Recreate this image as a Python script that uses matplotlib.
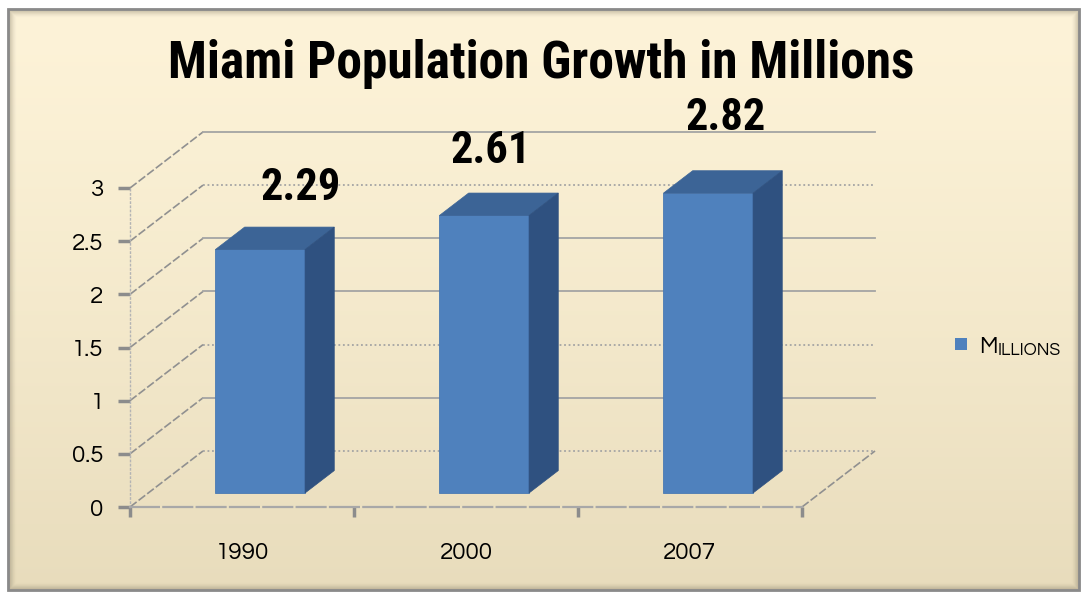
import numpy as np
import matplotlib
matplotlib.use("Agg")
import matplotlib.pyplot as plt
from matplotlib.patches import Rectangle, Polygon

years = ["1990", "2000", "2007"]
millions = [2.29, 2.61, 2.82]
yticks = [0, 0.5, 1, 1.5, 2, 2.5, 3]
ytick_labels = ["0", "0.5", "1", "1.5", "2", "2.5", "3"]
title = "Miami Population Growth in Millions"
series_name = "Millions"

# 3d look (data units of the front plane)
DX, DY = 0.326, 0.527      # depth vector of the floor
F0, F1 = 0.25, 0.65        # bar front / back depth fraction
W = 0.40                   # bar width
label_dx = [0.26, 0.11, 0.16]
label_dy = [0.71, 0.74, 0.84]

cond = ["Roboto Condensed", "Liberation Sans", "DejaVu Sans"]
plain = ["Questrial", "Liberation Sans", "DejaVu Sans"]

fig = plt.figure(figsize=(10.83, 5.93), dpi=100)
fig.patch.set_facecolor("white")

# background panel: gradient + shadowed frame
bg = fig.add_axes([0, 0, 1, 1])
bg.set_xlim(0, 1083)
bg.set_ylim(593, 0)
bg.axis("off")
grad = np.linspace(0, 1, 256).reshape(-1, 1)
top_c = np.array([253, 243, 216]) / 255
bot_c = np.array([232, 220, 188]) / 255
img = top_c + (bot_c - top_c) * grad[..., None] ** 1.3
bg.imshow(img, extent=(8, 1079, 590, 9), aspect="auto", zorder=0)
for k in range(8):
    bg.add_patch(Rectangle((8 + k, 9 + k), 1071 - 2 * k, 581 - 2 * k, fill=False,
                           ec=(0.45, 0.42, 0.35, 0.35 * (1 - k / 8) ** 1.5), lw=1.0, zorder=1))
bg.add_patch(Rectangle((8, 9), 1071, 581, fill=False, ec="#8a8a8a", lw=2.0, zorder=2))

ax = fig.add_axes([130 / 1083, 86 / 593, 672 / 1083, 319 / 593])
ax.set_facecolor("none")
ax.set_xlim(-0.5, 2.5)
ax.set_ylim(0, 3)
for s in ["top", "right"]:
    ax.spines[s].set_visible(False)
ax.spines["left"].set_color("#b4b4b4")
ax.spines["left"].set_linestyle((0, (1, 2)))
ax.spines["left"].set_linewidth(1.0)
ax.spines["bottom"].set_color("#a8a8a8")
ax.spines["bottom"].set_linewidth(1.6)
ax.spines["bottom"].set_linestyle((0, (13, 2)))

ax.set_yticks(yticks)
ax.set_yticklabels(ytick_labels, family=plain, fontsize=17.5)
ax.tick_params(axis="y", length=9, width=2.5, color="#8c8c8c", pad=10)
x = np.arange(len(years))
ax.set_xticks(x)
ax.set_xticklabels(years, family=plain, fontsize=17.5)
ax.tick_params(axis="x", which="major", length=0, pad=25)
ax.set_xticks(np.arange(-0.5, len(years)), minor=True)
ax.tick_params(axis="x", which="minor", length=7, width=2.5, color="#8c8c8c")

# side wall, back wall and floor edges
x0, x1 = -0.5, len(years) - 0.5
dotted_levels = [2.5, 1, 0]
for v in yticks:
    ax.plot([x0, x0 + DX], [v, v + DY], color="#909090", lw=1.2,
            ls=(0, (5, 1.5)), clip_on=False, zorder=1)
    ls = (0, (1, 1.5)) if v in dotted_levels else "-"
    ax.plot([x0 + DX, x1 + DX], [v + DY, v + DY], color="#a4a4a4", lw=1.3,
            ls=ls, clip_on=False, zorder=1)
ax.plot([x1, x1 + DX], [0, DY], color="#909090", lw=1.2, ls=(0, (5, 1.5)),
        clip_on=False, zorder=1)

# bars: front face via bar(), top and side as polygons
front_c, top_c2, side_c = "#4f81bd", "#3c6496", "#2f5180"
xf = x + F0 * DX
ax.bar(xf, millions, width=W, bottom=F0 * DY, color=front_c, zorder=3,
       clip_on=False, edgecolor="#4a7ab3", linewidth=0.6)
d = F1 - F0
for xi, v in zip(xf, millions):
    xl, xr = xi - W / 2, xi + W / 2
    yt = v + F0 * DY
    ax.add_patch(Polygon([(xl, yt), (xr, yt), (xr + d * DX, yt + d * DY), (xl + d * DX, yt + d * DY)],
                         closed=True, fc=top_c2, ec=top_c2, lw=0.5, zorder=3, clip_on=False))
    ax.add_patch(Polygon([(xr, F0 * DY), (xr, yt), (xr + d * DX, yt + d * DY), (xr + d * DX, F1 * DY)],
                         closed=True, fc=side_c, ec=side_c, lw=0.5, zorder=3, clip_on=False))

for i, v in enumerate(millions):
    ax.text(x[i] + label_dx[i], v + label_dy[i], f"{v:.2f}", ha="center", va="center",
            family=cond, fontweight="bold", fontsize=32, color="black", zorder=5,
            clip_on=False)

fig.text(541 / 1083, 1 - 78 / 593, title, ha="center", va="baseline",
         family=cond, fontweight="bold", fontsize=37, color="black")

# legend, label in small caps
bg.add_patch(Rectangle((955, 338), 12, 12, fc=front_c, ec="none", zorder=3))
m = bg.text(979, 353, series_name[0].upper(), ha="left", va="baseline",
            family=plain, fontsize=16.5, color="black", zorder=3)
bg.annotate(series_name[1:].upper(), xy=(1, 0), xycoords=m, ha="left", va="bottom",
            family=plain, fontsize=12.5, color="black", zorder=3)

fig.savefig("out.png", dpi=100, facecolor=fig.get_facecolor())
